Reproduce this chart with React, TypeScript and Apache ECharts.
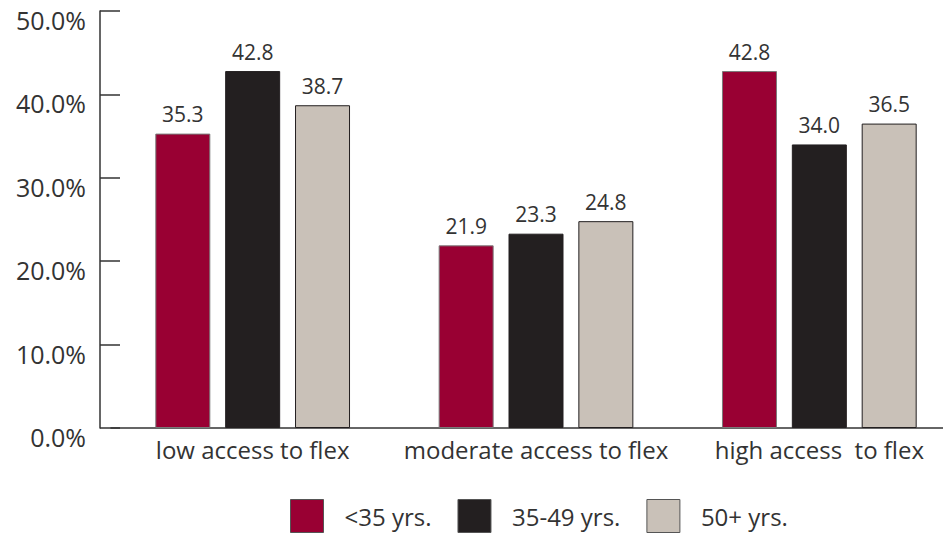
import React, { useEffect, useRef } from "react";
import * as echarts from "echarts";

const categories = ["low access to flex", "moderate access to flex", "high access  to flex"];
const seriesNames = ["<35 yrs.", "35-49 yrs.", "50+ yrs."];
const under35 = [35.3, 21.9, 42.8];
const mid3549 = [42.8, 23.3, 34.0];
const over50 = [38.7, 24.8, 36.5];
const colors = ["#990033", "#231f20", "#c9c1b8"];

const FONT = "'Open Sans', 'Noto Sans', sans-serif";
const TXT = "#333333";

export default function App() {
  const ref = useRef<HTMLDivElement>(null);
  useEffect(() => {
    if (!ref.current) return;
    const chart = echarts.init(ref.current, undefined, { renderer: "svg" });
    const values = [under35, mid3549, over50];
    chart.setOption({
      animation: false,
      textStyle: { fontFamily: FONT },
      grid: {
        left: 111,
        width: 850,
        top: 11,
        bottom: 107,
        containLabel: false,
        outerBoundsMode: "none",
      },
      legend: {
        bottom: 2,
        left: 290,
        padding: 0,
        itemWidth: 33,
        itemHeight: 33,
        itemGap: 26,
        icon: "rect",
        textStyle: { fontFamily: FONT, fontSize: 24, color: TXT, padding: [0, 0, 0, 16] },
        data: seriesNames.map((n, i) => ({
          name: n,
          itemStyle: { color: colors[i], borderColor: "#555", borderWidth: 1 },
        })),
      },
      xAxis: {
        type: "category",
        data: categories,
        axisLine: { show: true, lineStyle: { color: "#333", width: 1.5 } },
        axisTick: { show: false },
        axisLabel: { fontFamily: FONT, fontSize: 24, color: TXT, margin: 9, interval: 0 },
      },
      yAxis: {
        type: "value",
        min: 0,
        max: 50,
        interval: 10,
        offset: 11,
        splitLine: { show: false },
        axisLine: { show: true, lineStyle: { color: "#333", width: 1.5 } },
        axisTick: { show: true, inside: true, length: 20, lineStyle: { color: "#333", width: 1.5 } },
        axisLabel: {
          fontFamily: FONT,
          fontSize: 25,
          color: TXT,
          margin: 14,
          verticalAlign: "top",
          lineHeight: 18,
          formatter: (v: number) => v.toFixed(1) + "%",
        },
      },
      series: seriesNames.map((n, i) => ({
        name: n,
        type: "bar",
        data: values[i],
        barWidth: 55,
        barGap: "27%",
        itemStyle: {
          color: colors[i],
          borderColor: i === 0 ? "#7a7a7a" : "#231f20",
          borderWidth: 1,
        },
        label: {
          show: true,
          position: "top",
          distance: 9,
          fontFamily: FONT,
          fontSize: 21,
          color: TXT,
          formatter: (p: any) => Number(p.value).toFixed(1),
        },
      })),
    });
    return () => chart.dispose();
  }, []);
  return (
    <div
      ref={ref}
      style={{ position: "absolute", left: 0, top: 0, width: 943, height: 535 }}
    />
  );
}
